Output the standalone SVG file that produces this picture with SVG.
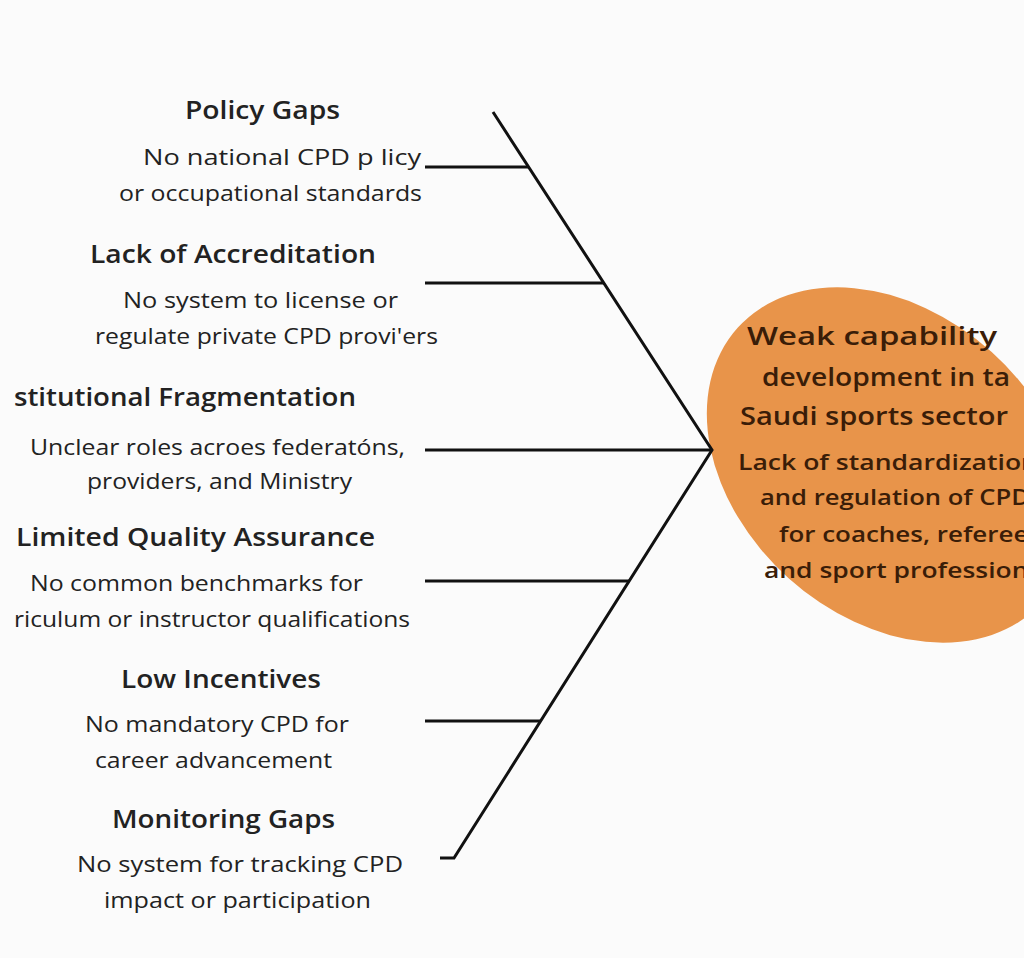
<svg xmlns="http://www.w3.org/2000/svg" width="1024" height="958" viewBox="0 0 1024 958">
<style>
text{font-family:"Open Sans","Liberation Sans",sans-serif;fill:#222}
.t{font-size:25px;font-weight:600}
.b{font-size:22px}
.c{font-size:25px;font-weight:600;fill:#3a1d08}
.s{font-size:21px;font-weight:600;fill:#3a1d08}
.l{stroke:#111;stroke-width:3;fill:none}
</style>
<rect width="1024" height="958" fill="#fbfbfb"/>
<g id="effect">
<ellipse cx="890" cy="465" rx="205" ry="152" transform="rotate(42 890 465)" fill="#e8944a"/>
<text class="c" x="747" y="345" textLength="250" lengthAdjust="spacingAndGlyphs">Weak capability</text>
<text class="c" x="762" y="386" textLength="248" lengthAdjust="spacingAndGlyphs">development in ta</text>
<text class="c" x="740" y="425" textLength="268" lengthAdjust="spacingAndGlyphs">Saudi sports sector</text>
<text class="s" x="738" y="470" textLength="300" lengthAdjust="spacingAndGlyphs">Lack of standardization</text>
<text class="s" x="760" y="505" textLength="270" lengthAdjust="spacingAndGlyphs">and regulation of CPD</text>
<text class="s" x="779" y="542" textLength="262" lengthAdjust="spacingAndGlyphs">for coaches, referees</text>
<text class="s" x="764" y="578" textLength="300" lengthAdjust="spacingAndGlyphs">and sport professionals</text>
</g>
<g id="connectors">
<polyline class="l" points="493,112 712,450 454,858 440,858"/>
<line class="l" x1="425" y1="450" x2="712" y2="450"/>
<line class="l" x1="425" y1="167" x2="529" y2="167"/>
<line class="l" x1="425" y1="283" x2="604" y2="283"/>
<line class="l" x1="425" y1="581" x2="629" y2="581"/>
<line class="l" x1="425" y1="721" x2="541" y2="721"/>
</g>
<g id="c1">
<text class="t" x="185" y="119" textLength="155" lengthAdjust="spacingAndGlyphs">Policy Gaps</text>
<text class="b" x="143" y="165" textLength="278" lengthAdjust="spacingAndGlyphs">No national CPD p licy</text>
<text class="b" x="119" y="201" textLength="303" lengthAdjust="spacingAndGlyphs">or occupational standards</text>
</g>
<g id="c2">
<text class="t" x="90" y="263" textLength="286" lengthAdjust="spacingAndGlyphs">Lack of Accreditation</text>
<text class="b" x="123" y="308" textLength="275" lengthAdjust="spacingAndGlyphs">No system to license or</text>
<text class="b" x="95" y="344" textLength="343" lengthAdjust="spacingAndGlyphs">regulate private CPD provi'ers</text>
</g>
<g id="c3">
<text class="t" x="14" y="406" textLength="342" lengthAdjust="spacingAndGlyphs">stitutional Fragmentation</text>
<text class="b" x="30" y="455" textLength="375" lengthAdjust="spacingAndGlyphs">Unclear roles acroes federatóns,</text>
<text class="b" x="87" y="489" textLength="265" lengthAdjust="spacingAndGlyphs">providers, and Ministry</text>
</g>
<g id="c4">
<text class="t" x="16" y="546" textLength="359" lengthAdjust="spacingAndGlyphs">Limited Quality Assurance</text>
<text class="b" x="30" y="591" textLength="333" lengthAdjust="spacingAndGlyphs">No common benchmarks for</text>
<text class="b" x="14" y="627" textLength="396" lengthAdjust="spacingAndGlyphs">riculum or instructor qualifications</text>
</g>
<g id="c5">
<text class="t" x="121" y="688" textLength="200" lengthAdjust="spacingAndGlyphs">Low Incentives</text>
<text class="b" x="85" y="732" textLength="264" lengthAdjust="spacingAndGlyphs">No mandatory CPD for</text>
<text class="b" x="95" y="768" textLength="237" lengthAdjust="spacingAndGlyphs">career advancement</text>
</g>
<g id="c6">
<text class="t" x="112" y="828" textLength="223" lengthAdjust="spacingAndGlyphs">Monitoring Gaps</text>
<text class="b" x="77" y="872" textLength="326" lengthAdjust="spacingAndGlyphs">No system for tracking CPD</text>
<text class="b" x="104" y="908" textLength="267" lengthAdjust="spacingAndGlyphs">impact or participation</text>
</g>
</svg>
